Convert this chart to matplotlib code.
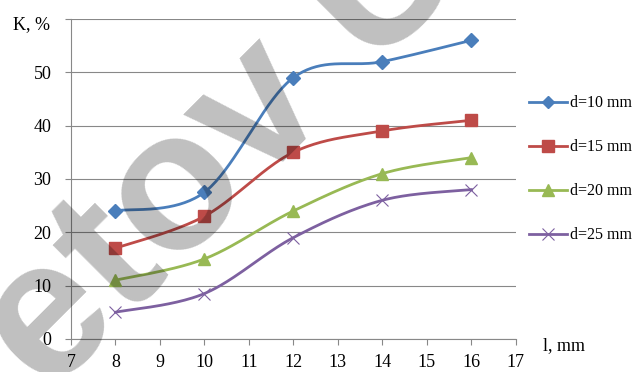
import numpy as np
import matplotlib.pyplot as plt
from matplotlib.lines import Line2D

plt.rcParams['font.family'] = ['Liberation Serif', 'DejaVu Serif']

lengths = [8, 10, 12, 14, 16]
k_d10 = [24, 27.5, 49, 52, 56]
k_d15 = [17, 23, 35, 39, 41]
k_d20 = [11, 15, 24, 31, 34]
k_d25 = [5, 8.5, 19, 26, 28]
labels = ["d=10 mm", "d=15 mm", "d=20 mm", "d=25 mm"]


def smooth(x, y, n=40):
    # Excel-style smoothing: cubic Bezier with Catmull-Rom control points
    pts = np.column_stack([x, y]).astype(float)
    ext = np.vstack([pts[0], pts, pts[-1]])
    t = np.linspace(0, 1, n)[:, None]
    out = []
    for i in range(len(pts) - 1):
        p0, p3 = ext[i + 1], ext[i + 2]
        c1 = p0 + (ext[i + 2] - ext[i]) / 6
        c2 = p3 - (ext[i + 3] - ext[i + 1]) / 6
        seg = ((1 - t) ** 3) * p0 + 3 * ((1 - t) ** 2) * t * c1 + 3 * (1 - t) * t ** 2 * c2 + t ** 3 * p3
        out.append(seg)
    curve = np.vstack(out)
    return curve[:, 0], curve[:, 1]


series = [k_d10, k_d15, k_d20, k_d25]
colors = ["#4A7EBB", "#BE4B48", "#98B954", "#7D60A0"]
markers = ["D", "s", "^", "x"]
msizes = [7, 9, 9, 9]

fig = plt.figure(figsize=(6.33, 3.72), dpi=100)
ax = fig.add_axes([0.112, 0.089, 0.703, 0.86])

handles = []
for vals, col, mk, ms in zip(series, colors, markers, msizes):
    sx, sy = smooth(lengths, vals)
    ax.plot(sx, sy, color=col, lw=2.0, zorder=3)
    mew = 0.8 if mk == "x" else 1
    ax.plot(lengths, vals, ls="none", marker=mk, ms=ms, color=col, mew=mew, zorder=4)
    handles.append(Line2D([], [], color=col, lw=2.0, marker=mk, ms=ms - 1, mew=mew))

ax.set_xlim(7, 17)
ax.set_ylim(0, 60)
ax.set_xticks(range(7, 18))
ax.set_yticks(range(0, 61, 10))
ax.set_yticklabels(["0", "10", "20", "30", "40", "50", ""])
ax.grid(axis="y", color="#888888", lw=0.8)
ax.set_axisbelow(True)
for side in ["top", "right"]:
    ax.spines[side].set_visible(False)
for side in ["left", "bottom"]:
    ax.spines[side].set_color("#888888")
    ax.spines[side].set_linewidth(0.8)
ax.tick_params(axis="x", length=4, color="#888888", labelsize=13, pad=7)
ax.tick_params(axis="y", length=4, color="#888888", labelsize=13, pad=10)

fig.text(0.02, 0.933, "K, %", fontsize=13, va="center")
fig.text(0.858, 0.072, "l, mm", fontsize=13, va="center")

fig.legend(handles, labels, loc="center left", bbox_to_anchor=(0.823, 0.545),
           frameon=False, fontsize=11.5, handlelength=2.4, handletextpad=0.2,
           labelspacing=1.75, borderpad=0)

fig.text(48 / 633, 1 - 398 / 372, "etov U", fontsize=142, family="Liberation Sans",
         weight="bold", rotation=45, rotation_mode="anchor", ha="left",
         va="baseline", color="black", alpha=0.25, zorder=10)

fig.savefig("out.png", dpi=100)
